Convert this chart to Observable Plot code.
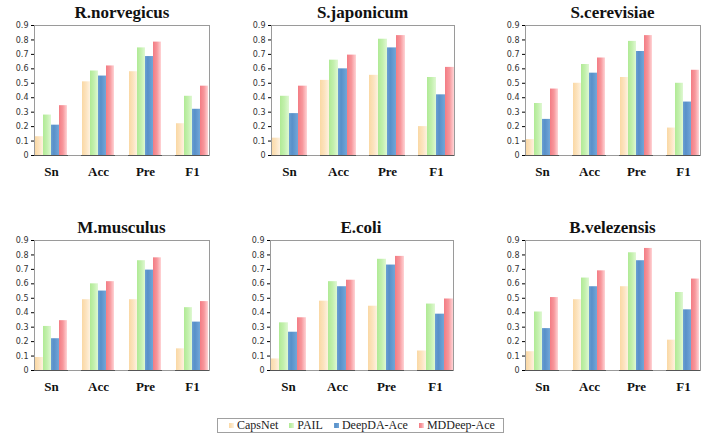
<!DOCTYPE html>
<html>
<head>
<meta charset="utf-8">
<script src="https://cdn.jsdelivr.net/npm/d3@7"></script>
<script src="https://cdn.jsdelivr.net/npm/@observablehq/plot@0.6"></script>
<style>
  body { margin: 0; background: #fff; }
  #root { position: relative; width: 712px; height: 439px; overflow: hidden; background: #fff; }
  .title { position: absolute; text-align: center; font-family: "Liberation Serif", "DejaVu Serif", serif; font-weight: bold; font-size: 17px; line-height: 18px; color: #111; }
  .panel { position: absolute; }
  #legend { position: absolute; left: 217px; top: 418px; width: 287px; height: 15px; box-sizing: border-box; border: 1px solid #a0a0a0; padding-left: 11px; display: flex; align-items: center; overflow: hidden; }
  #legend > div { margin: 0 !important; min-height: 0 !important; flex-wrap: nowrap !important; white-space: nowrap; font-family: "Liberation Serif", "DejaVu Serif", serif !important; font-size: 12px !important; color: #222; display: flex !important; align-items: center; }
  #legend span { margin-right: 11px !important; display: inline-flex !important; align-items: center; }
  #legend svg { margin-right: 3px !important; }
</style>
</head>
<body>
<svg width="0" height="0" style="position:absolute">
  <defs>
    <linearGradient id="gCaps" x1="0" x2="1" y1="0" y2="0">
      <stop offset="0" stop-color="#FAD8A4"/>
      <stop offset="0.5" stop-color="#FCE3BE"/>
      <stop offset="1" stop-color="#FEF2E0"/>
    </linearGradient>
    <linearGradient id="gPail" x1="0" x2="1" y1="0" y2="0">
      <stop offset="0" stop-color="#B0EA95"/>
      <stop offset="0.5" stop-color="#C3F0AD"/>
      <stop offset="1" stop-color="#DFF8D2"/>
    </linearGradient>
    <linearGradient id="gDeep" x1="0" x2="1" y1="0" y2="0">
      <stop offset="0" stop-color="#6A9FD3"/>
      <stop offset="0.35" stop-color="#5890C9"/>
      <stop offset="1" stop-color="#72A6D8"/>
    </linearGradient>
    <linearGradient id="gMd" x1="0" x2="1" y1="0" y2="0">
      <stop offset="0" stop-color="#F37C84"/>
      <stop offset="0.5" stop-color="#F7979C"/>
      <stop offset="1" stop-color="#FFD4D6"/>
    </linearGradient>
  </defs>
</svg>
<div id="root"></div>
<script>
// ---- data ----
const organisms = ["R.norvegicus", "S.japonicum", "S.cerevisiae", "M.musculus", "E.coli", "B.velezensis"];
const metrics = ["Sn", "Acc", "Pre", "F1"];
const methods = ["CapsNet", "PAIL", "DeepDA-Ace", "MDDeep-Ace"];
const yTicks = [0, 0.1, 0.2, 0.3, 0.4, 0.5, 0.6, 0.7, 0.8, 0.9];

// rows: organisms; columns: Sn, Acc, Pre, F1
const capsNet = [
  [0.13, 0.51, 0.58, 0.22],
  [0.12, 0.52, 0.555, 0.20],
  [0.11, 0.50, 0.54, 0.19],
  [0.09, 0.49, 0.49, 0.15],
  [0.08, 0.48, 0.445, 0.135],
  [0.13, 0.49, 0.58, 0.21]
];
const pail = [
  [0.28, 0.585, 0.745, 0.41],
  [0.41, 0.66, 0.805, 0.54],
  [0.36, 0.63, 0.79, 0.50],
  [0.305, 0.60, 0.76, 0.435],
  [0.33, 0.615, 0.77, 0.46],
  [0.405, 0.64, 0.815, 0.54]
];
const deepDA = [
  [0.21, 0.55, 0.685, 0.32],
  [0.29, 0.60, 0.745, 0.42],
  [0.25, 0.57, 0.72, 0.37],
  [0.22, 0.55, 0.695, 0.335],
  [0.265, 0.58, 0.73, 0.39],
  [0.29, 0.58, 0.76, 0.42]
];
const mdDeep = [
  [0.345, 0.62, 0.785, 0.48],
  [0.48, 0.695, 0.83, 0.61],
  [0.46, 0.675, 0.83, 0.59],
  [0.345, 0.615, 0.78, 0.477],
  [0.365, 0.625, 0.79, 0.495],
  [0.505, 0.69, 0.845, 0.633]
];
const seriesValues = [capsNet, pail, deepDA, mdDeep];
const fills = ["url(#gCaps)", "url(#gPail)", "url(#gDeep)", "url(#gMd)"];

// ---- layout (plot-area boxes) ----
const layout = [
  {plotLeft: 27, plotTop: 25, plotW: 190, titleTop: 4},
  {plotLeft: 264, plotTop: 25, plotW: 197, titleTop: 4},
  {plotLeft: 518, plotTop: 25, plotW: 189, titleTop: 4},
  {plotLeft: 27, plotTop: 240, plotW: 189, titleTop: 219},
  {plotLeft: 262, plotTop: 240, plotW: 198, titleTop: 219},
  {plotLeft: 518, plotTop: 240, plotW: 189, titleTop: 219}
];
const mL = 27, mR = 4, mT = 2, mB = 30, plotH = 130;
const serif = "'Liberation Serif', 'DejaVu Serif', serif";

const root = document.getElementById("root");
const colorOpts = {domain: methods, range: fills};

organisms.forEach((org, i) => {
  const data = [];
  metrics.forEach((m, j) => {
    methods.forEach((meth, k) => {
      data.push({organism: org, metric: m, method: meth, value: seriesValues[k][i][j]});
    });
  });
  const L = layout[i];

  const title = document.createElement("div");
  title.className = "title";
  title.style.left = L.plotLeft + "px";
  title.style.width = L.plotW + "px";
  title.style.top = L.titleTop + "px";
  title.textContent = org;
  root.appendChild(title);

  const chart = Plot.plot({
    width: mL + L.plotW + mR,
    height: mT + plotH + mB,
    marginLeft: mL, marginRight: mR, marginTop: mT, marginBottom: mB,
    style: {background: "transparent", overflow: "visible"},
    fx: {domain: metrics, paddingInner: 0.27, paddingOuter: 0.12, label: null, axis: "bottom", tickSize: 0, tickPadding: 11},
    x: {domain: methods, axis: null, padding: 0},
    y: {domain: [0, 0.9], ticks: yTicks, tickFormat: d => String(d), label: null, tickSize: 3, tickPadding: 3},
    color: colorOpts,
    marks: [
      Plot.barY(data, {fx: "metric", x: "method", y: "value", fill: "method"}),
      Plot.frame({facet: "super", stroke: "#9a9a9a"}),
      Plot.ruleY([0], {stroke: "#555", strokeWidth: 1.2})
    ]
  });
  chart.classList.add("panel");
  chart.style.left = (L.plotLeft - mL) + "px";
  chart.style.top = (L.plotTop - mT) + "px";
  chart.querySelectorAll("[aria-label='y-axis tick label']").forEach(el => {
    el.style.fontFamily = "'DejaVu Sans', Verdana, sans-serif";
    el.style.fontSize = "8px";
    el.style.fill = "#333";
  });
  chart.querySelectorAll("[aria-label='y-axis tick']").forEach(el => {
    el.setAttribute("stroke", "#aaa");
  });
  chart.querySelectorAll("[aria-label='fx-axis tick label']").forEach(el => {
    el.style.fontFamily = serif;
    el.style.fontSize = "13px";
    el.style.fontWeight = "bold";
    el.style.fill = "#111";
  });
  root.appendChild(chart);
});

const legendWrap = document.createElement("div");
legendWrap.id = "legend";
const legend = Plot.legend({color: colorOpts, legend: "swatches", swatchSize: 5});
legendWrap.appendChild(legend);
root.appendChild(legendWrap);
</script>
</body>
</html>
